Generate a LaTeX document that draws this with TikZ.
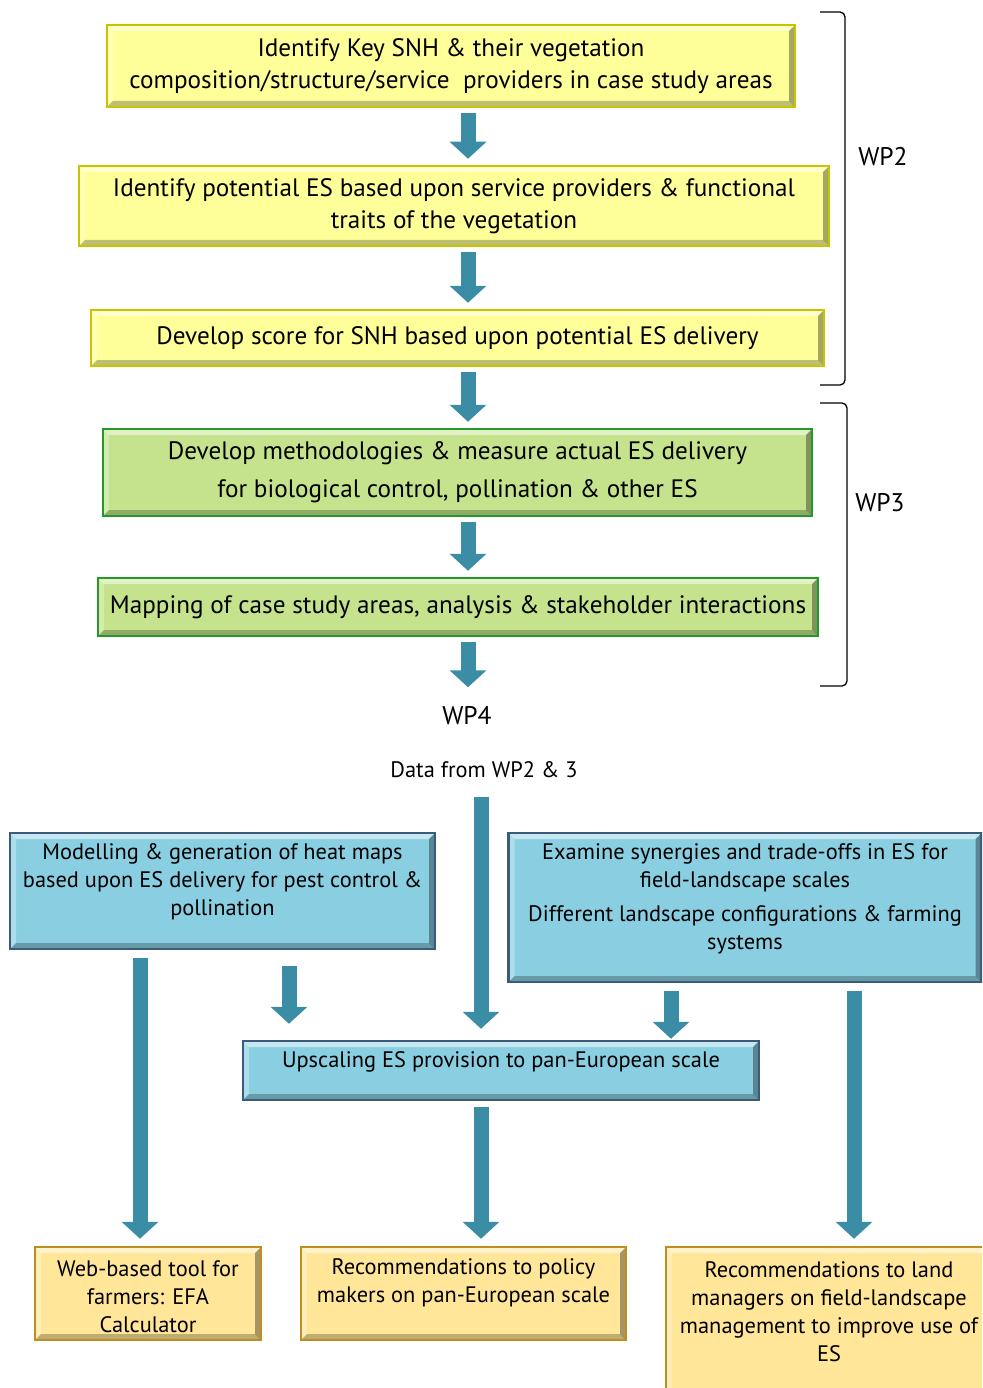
\documentclass[tikz,border=0pt]{standalone}
\usepackage{fontspec}
\setmainfont{PT Sans}
\usetikzlibrary{arrows.meta}
\definecolor{snhyellow}{HTML}{FFFF99}
\definecolor{snhyellowedge}{HTML}{C8C400}
\definecolor{esgreen}{HTML}{C4E38C}
\definecolor{esgreenedge}{HTML}{22992A}
\definecolor{wpblue}{HTML}{8ACFE1}
\definecolor{wpblueedge}{HTML}{3C5A7C}
\definecolor{outgold}{HTML}{FFE699}
\definecolor{outgoldedge}{HTML}{BE8F1E}
\definecolor{flowcol}{HTML}{3A8DA4}
\tikzset{
  bevel/.style={path picture={
    \fill[white,opacity=.5] (path picture bounding box.north west) -- (path picture bounding box.north east)
      -- ([shift={(-6pt,-6pt)}]path picture bounding box.north east) -- ([shift={(6pt,-6pt)}]path picture bounding box.north west) -- cycle;
    \fill[white,opacity=.3] (path picture bounding box.north west) -- ([shift={(6pt,-6pt)}]path picture bounding box.north west)
      -- ([shift={(6pt,6pt)}]path picture bounding box.south west) -- (path picture bounding box.south west) -- cycle;
    \fill[black,opacity=.25] (path picture bounding box.south west) -- (path picture bounding box.south east)
      -- ([shift={(-6pt,6pt)}]path picture bounding box.south east) -- ([shift={(6pt,6pt)}]path picture bounding box.south west) -- cycle;
    \fill[black,opacity=.35] (path picture bounding box.north east) -- (path picture bounding box.south east)
      -- ([shift={(-6pt,6pt)}]path picture bounding box.south east) -- ([shift={(-6pt,-6pt)}]path picture bounding box.north east) -- cycle;
  }},
  wpbox/.style={draw, line width=2.5pt, inner sep=0pt, align=center, bevel},
  ybox/.style={wpbox, fill=snhyellow, draw=snhyellowedge, font=\fontsize{25.2}{32}\selectfont},
  gbox/.style={wpbox, fill=esgreen, draw=esgreenedge, font=\fontsize{25.2}{32}\selectfont},
  bbox/.style={wpbox, fill=wpblue, draw=wpblueedge},
  obox/.style={wpbox, fill=outgold, draw=outgoldedge},
  boxtext/.style={align=center, inner sep=0pt, font=\fontsize{22.4}{28}\selectfont},
  wplabel/.style={font=\fontsize{25.5}{28}\selectfont},
  bracket/.style={line width=1.3pt, rounded corners=5pt},
  flow/.style={line width=15pt, draw=flowcol, shorten <=5pt, shorten >=6pt,
    -{Triangle[width=36pt,length=17pt]}},
}

\begin{document}
\begin{tikzpicture}[x=1pt,y=-1pt]
\clip (0,0) rectangle (982,1388);

% WP2 boxes
\node[ybox, minimum width=688pt, minimum height=82pt] (key) at (451,66)
  {Identify Key SNH \& their vegetation\\composition/structure/service\ \ providers in case study areas};
\node[ybox, minimum width=750pt, minimum height=80pt] (potential) at (454,206)
  {Identify potential ES based upon service providers \& functional\\traits of the vegetation};
\node[ybox, minimum width=733pt, minimum height=56pt] (score) at (457.5,338)
  {Develop score for SNH based upon potential ES delivery};

% WP3 boxes
\node[gbox, minimum width=709pt, minimum height=87pt] (method) at (457.5,472.5)
  {Develop methodologies \& measure actual ES delivery\\[6pt]for biological control, pollination \& other ES};
\node[gbox, minimum width=720pt, minimum height=58pt] (mapping) at (458,607)
  {Mapping of case study areas, analysis \& stakeholder interactions};

\node[wplabel] (wp4) at (467,716) {WP4};
\node[boxtext] (data) at (484,770) {Data from WP2 \& 3};

% Brackets
\draw[bracket] (820,12) -- (845,12) -- (845,385) -- (820,385);
\node[wplabel] (wp2) at (883,157) {WP2};
\draw[bracket] (820,403) -- (847,403) -- (847,686) -- (820,686);
\node[wplabel] (wp3) at (880,503) {WP3};

% WP4 boxes
\node[bbox, minimum width=425pt, minimum height=116pt] (model) at (222.5,891) {};
\node[boxtext] (modeltext) at (222.5,882)
  {Modelling \& generation of heat maps\\based upon ES delivery for pest control \&\\pollination};
\node[bbox, minimum width=473pt, minimum height=149pt] (synergy) at (745,907.5) {};
\node[boxtext] (synergytext) at (745,899)
  {Examine synergies and trade-offs in ES for\\field-landscape scales\\[6pt]Different landscape configurations \& farming\\systems};
\node[bbox, minimum width=516pt, minimum height=59pt] (upscale) at (501,1070.5) {};
\node[boxtext] (upscaletext) at (501,1062) {Upscaling ES provision to pan-European scale};

% Outputs
\node[obox, minimum width=226pt, minimum height=93pt] (web) at (148,1293.5) {};
\node[boxtext] (webtext) at (148,1297) {Web-based tool for\\farmers: EFA\\Calculator};
\node[obox, minimum width=325pt, minimum height=93pt] (policy) at (463.5,1293.5) {};
\node[boxtext] (policytext) at (463.5,1283) {Recommendations to policy\\makers on pan-European scale};
\node[obox, minimum width=326pt, minimum height=149pt] (land) at (829,1321.5) {};
\node[boxtext] (landtext) at (829,1311.5)
  {Recommendations to land\\managers on field-landscape\\management to improve use of\\ES};

% Arrows
\coordinate (spine) at (468,0);
\draw[flow] (key.south -| spine) -- (potential.north -| spine);
\draw[flow] (potential.south -| spine) -- (score.north -| spine);
\draw[flow] (score.south -| spine) -- (method.north -| spine);
\draw[flow] (method.south -| spine) -- (mapping.north -| spine);
\draw[flow, shorten >=16pt] (mapping.south -| spine) -- (wp4.north -| spine);

\coordinate (colA) at (140,0);
\coordinate (colB) at (289,0);
\coordinate (colC) at (481,0);
\coordinate (colD) at (671,0);
\coordinate (colE) at (854,0);
\draw[flow, shorten <=19pt, shorten >=11pt] (data.south -| colC) -- (upscale.north -| colC);
\draw[flow, shorten <=16pt, shorten >=16pt] (model.south -| colB) -- (upscale.north -| colB);
\draw[flow, shorten <=8pt, shorten >=1pt] (synergy.south -| colD) -- (upscale.north -| colD);
\draw[flow, shorten <=8pt, shorten >=7pt] (model.south -| colA) -- (web.north -| colA);
\draw[flow, shorten <=8pt, shorten >=7pt] (synergy.south -| colE) -- (land.north -| colE);
\draw[flow, shorten <=6pt, shorten >=7pt] (upscale.south -| colC) -- (policy.north -| colC);

\end{tikzpicture}
\end{document}
